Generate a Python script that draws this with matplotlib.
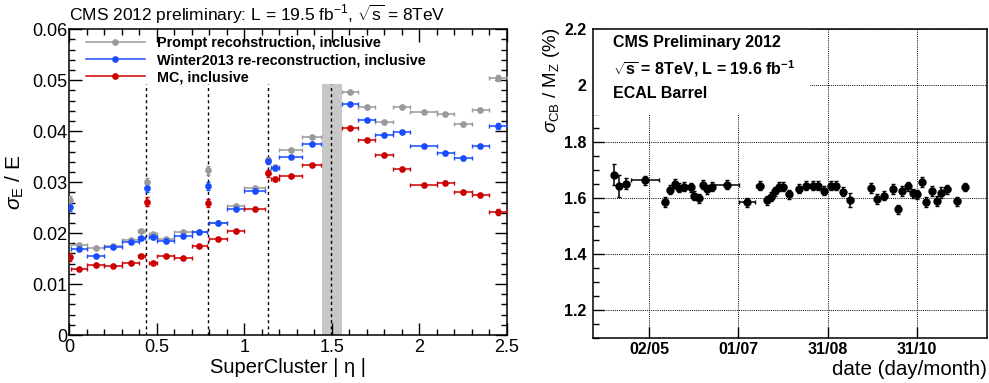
import numpy as np
import matplotlib
matplotlib.use('Agg')
import matplotlib.pyplot as plt
from matplotlib.lines import Line2D
from matplotlib.patches import Rectangle
from matplotlib.ticker import MultipleLocator, FixedLocator

plt.rcParams['font.family'] = ['Liberation Sans', 'DejaVu Sans']
plt.rcParams['mathtext.fontset'] = 'custom'
plt.rcParams['mathtext.rm'] = 'Liberation Sans'
plt.rcParams['mathtext.it'] = 'Liberation Sans:italic'
plt.rcParams['mathtext.bf'] = 'Liberation Sans:bold'

# ==================== 左图: sigma_E/E vs |eta| ====================
eta_lo = [0.0, 0.01, 0.1, 0.2, 0.3, 0.39, 0.435, 0.455, 0.5, 0.6, 0.7, 0.785, 0.8, 0.9,
          1.0, 1.125, 1.155, 1.2, 1.33, 1.56, 1.65, 1.75, 1.85, 1.95, 2.1, 2.2, 2.3, 2.4]
eta_hi = [0.01, 0.1, 0.2, 0.3, 0.4, 0.435, 0.45, 0.5, 0.6, 0.7, 0.785, 0.8, 0.9, 1.0,
          1.12, 1.145, 1.2, 1.33, 1.44, 1.65, 1.75, 1.85, 1.95, 2.1, 2.2, 2.3, 2.4, 2.5]

prompt = [0.0265, 0.0177, 0.0170, 0.0175, 0.0186, 0.0205, 0.0300, 0.0198, 0.0189, 0.0202,
          0.0203, 0.0323, 0.0220, 0.0254, 0.0289, 0.0343, 0.0330, 0.0363, 0.0389, 0.0476,
          0.0448, 0.0419, 0.0448, 0.0437, 0.0433, 0.0414, 0.0442, 0.0505]
winter = [0.0251, 0.0168, 0.0156, 0.0172, 0.0182, 0.0190, 0.0288, 0.0192, 0.0184, 0.0194,
          0.0202, 0.0292, 0.0219, 0.0247, 0.0283, 0.0341, 0.0328, 0.0349, 0.0375, 0.0453,
          0.0422, 0.0393, 0.0398, 0.0370, 0.0357, 0.0347, 0.0370, 0.0410]
mc = [0.0153, 0.0129, 0.0137, 0.0135, 0.0142, 0.0155, 0.0262, 0.0142, 0.0156, 0.0151,
      0.0174, 0.0259, 0.0188, 0.0205, 0.0247, 0.0317, 0.0306, 0.0313, 0.0334, 0.0406,
      0.0383, 0.0353, 0.0326, 0.0294, 0.0299, 0.0280, 0.0274, 0.0241]
eta_yerr = [0.0008, 0.0002, 0.0002, 0.0002, 0.0002, 0.0003, 0.0008, 0.0003, 0.0002, 0.0002,
            0.0002, 0.0008, 0.0002, 0.0002, 0.0002, 0.0006, 0.0004, 0.0002, 0.0002, 0.0002,
            0.0002, 0.0002, 0.0002, 0.0002, 0.0003, 0.0003, 0.0003, 0.0006]

crack_lines = [0.438, 0.791, 1.137, 1.496]
gap_lo, gap_hi = 1.4442, 1.56

# ==================== 右图: sigma_CB/M_Z vs 日期 ====================
day_of_year = [99, 102.4, 107, 120, 133.4, 137.3, 140.7, 143.1, 146.5, 151.1, 153.3, 156.7,
               159.7, 162.4, 165.3, 175.5, 189.3, 197.9, 202.7, 205.4, 208.3, 211.3, 214.0,
               217.6, 224.4, 229.4, 233.9, 237.5, 241.6, 246.1, 249.5, 254.3, 259.5, 273.3,
               277.4, 282.5, 288.2, 291.6, 294.5, 298.4, 301.8, 304.5, 308.1, 310.8, 314.7,
               318.1, 320.8, 325.3, 331.9, 337.3]
day_err = [1.2, 1.2, 2.0, 9.7, 1.5, 1.2, 1.2, 1.2, 1.5, 1.5, 1.2, 1.2,
           1.2, 1.2, 1.2, 8.4, 5.7, 2.5, 1.2, 1.2, 1.2, 1.2, 1.5,
           1.5, 1.5, 1.5, 1.5, 1.5, 1.5, 1.5, 1.5, 1.5, 1.5, 1.2,
           1.5, 1.5, 1.2, 1.2, 1.2, 1.5, 1.2, 1.2, 1.2, 1.5, 1.5,
           1.2, 1.5, 1.5, 2.0, 1.5]
resolution = [1.683, 1.643, 1.651, 1.662, 1.584, 1.628, 1.650, 1.636, 1.639, 1.637, 1.607, 1.598,
              1.647, 1.631, 1.639, 1.647, 1.584, 1.643, 1.592, 1.604, 1.624, 1.639, 1.639,
              1.612, 1.633, 1.643, 1.643, 1.643, 1.626, 1.643, 1.643, 1.622, 1.594, 1.635,
              1.597, 1.607, 1.631, 1.559, 1.624, 1.641, 1.617, 1.613, 1.657, 1.586, 1.624,
              1.588, 1.619, 1.630, 1.588, 1.639]
resolution_err = [0.037, 0.040, 0.018, 0.015, 0.018, 0.016, 0.016, 0.016, 0.016, 0.016, 0.016, 0.016,
                  0.016, 0.016, 0.016, 0.015, 0.015, 0.016, 0.016, 0.016, 0.016, 0.016, 0.016,
                  0.016, 0.016, 0.016, 0.016, 0.016, 0.016, 0.016, 0.016, 0.016, 0.025, 0.018,
                  0.018, 0.016, 0.018, 0.016, 0.018, 0.016, 0.016, 0.016, 0.018, 0.018, 0.018,
                  0.018, 0.018, 0.016, 0.016, 0.014]
date_ticks = [123, 183.5, 244, 304.5]
date_labels = ['02/05', '01/07', '31/08', '31/10']

# ==================== 画图 ====================
fig = plt.figure(figsize=(9.89, 3.83), dpi=100)
ax1 = fig.add_axes([0.0701, 0.1253, 0.4422, 0.7982])
ax2 = fig.add_axes([0.5999, 0.1167, 0.3978, 0.8068])

lo = np.array(eta_lo)
hi = np.array(eta_hi)
xc = (lo + hi) / 2
xe = (hi - lo) / 2

ax1.axvspan(gap_lo, gap_hi, ymin=0, ymax=0.0493 / 0.06, color='#c8c8c8', lw=0, zorder=1)
ax1.vlines(crack_lines, 0, 0.0493, colors='black', linestyles=(0, (2.2, 2.2)), lw=1.0, zorder=2)

series = [(prompt, '#9a9a9a', 'Prompt reconstruction, inclusive'),
          (winter, '#1a4cff', 'Winter2013 re-reconstruction, inclusive'),
          (mc, '#cc0000', 'MC, inclusive')]
handles = []
for vals, col, lab in series:
    ax1.errorbar(xc, vals, xerr=xe, yerr=eta_yerr, fmt='o', color=col, ms=3.8,
                 elinewidth=1.1, capsize=1.6, capthick=1.0, zorder=3)
    handles.append(Line2D([0], [0], color=col, marker='o', ms=3.8, lw=1.1))

ax1.legend(handles, [s[2] for s in series], loc='upper left', bbox_to_anchor=(0.037, 0.977),
           frameon=False, prop={'weight': 'bold', 'size': 10.4}, handlelength=4.1,
           handletextpad=0.84, labelspacing=0.2, borderpad=0.0, borderaxespad=0.0)

ax1.set_xlim(0, 2.5)
ax1.set_ylim(0, 0.06)
ax1.xaxis.set_major_locator(MultipleLocator(0.5))
ax1.xaxis.set_minor_locator(MultipleLocator(0.1))
ax1.yaxis.set_major_locator(MultipleLocator(0.01))
ax1.yaxis.set_minor_locator(MultipleLocator(0.002))
ax1.xaxis.set_major_formatter(plt.FuncFormatter(lambda v, p: '%g' % v))
ax1.yaxis.set_major_formatter(plt.FuncFormatter(lambda v, p: '%g' % v if v > 0 else '0'))
ax1.tick_params(which='both', direction='in', top=True, right=True, labelsize=13, width=1.0)
ax1.tick_params(which='major', length=9)
ax1.tick_params(which='minor', length=4.5)
ax1.tick_params(axis='y', pad=1.5)
ax1.tick_params(axis='x', pad=3)
for s in ax1.spines.values():
    s.set_linewidth(1.1)
ax1.set_xlabel('SuperCluster | η |', fontsize=14.5, labelpad=1)
ax1.set_ylabel(r'$\sigma_{\mathrm{E}}$ / E', fontsize=15, labelpad=4)
ax1.text(0.0, 1.012, r'CMS 2012 preliminary: L = 19.5 fb$^{-1}$, $\sqrt{\mathrm{s}}$ = 8TeV',
         transform=ax1.transAxes, fontsize=12.5, ha='left', va='bottom')

# 右图
ax2.set_xlim(85, 352)
ax2.set_ylim(1.1, 2.2)
ax2.xaxis.set_major_locator(FixedLocator(date_ticks))
ax2.set_xticklabels(date_labels)
ax2.yaxis.set_major_locator(MultipleLocator(0.2))
ax2.yaxis.set_minor_locator(MultipleLocator(0.05))
ax2.yaxis.set_major_formatter(plt.FuncFormatter(lambda v, p: '%g' % round(v, 2)))
ax2.grid(True, which='major', color='black', linestyle=(0, (1, 1.2)), lw=0.7, zorder=0)
ax2.add_patch(Rectangle((0, 0.7227), 0.551, 0.2773, transform=ax2.transAxes,
                        facecolor='white', edgecolor='none', zorder=1))
ax2.set_axisbelow(True)
ax2.errorbar(day_of_year, resolution, xerr=day_err, yerr=resolution_err, fmt='o',
             color='black', ms=5, elinewidth=1.1, capsize=1.6, zorder=3)
ax2.tick_params(which='both', direction='in', labelsize=11.5, width=1.0)
ax2.tick_params(which='major', length=8)
ax2.tick_params(which='minor', length=4)
ax2.tick_params(axis='y', pad=5)
ax2.tick_params(axis='x', pad=3)
for lab in ax2.get_xticklabels() + ax2.get_yticklabels():
    lab.set_fontweight('bold')
for s in ax2.spines.values():
    s.set_linewidth(1.1)
ax2.set_xlabel('date (day/month)', fontsize=14.8, labelpad=1)
ax2.xaxis.set_label_coords(1.0, -0.07)
ax2.xaxis.label.set_ha('right')
ax2.set_ylabel(r'$\sigma_{\mathrm{CB}}$ / M$_{\mathrm{Z}}$ (%)', fontsize=13.5, labelpad=6)
ax2.yaxis.set_label_coords(-0.105, 0.836)
ax2.yaxis.label.set_va('center')

ax2.text(0.049, 0.957, 'CMS Preliminary 2012', transform=ax2.transAxes, fontsize=11.5,
         fontweight='bold', va='center', zorder=4)
ax2.text(0.049, 0.874, r'$\sqrt{\mathbf{s}}$ = 8TeV, L = 19.6 fb$^{\mathbf{-1}}$', transform=ax2.transAxes,
         fontsize=11.5, fontweight='bold', va='center', zorder=4)
ax2.text(0.049, 0.793, 'ECAL Barrel', transform=ax2.transAxes, fontsize=11.5,
         fontweight='bold', va='center', zorder=4)

plt.savefig('out.png', dpi=100)
plt.close()
